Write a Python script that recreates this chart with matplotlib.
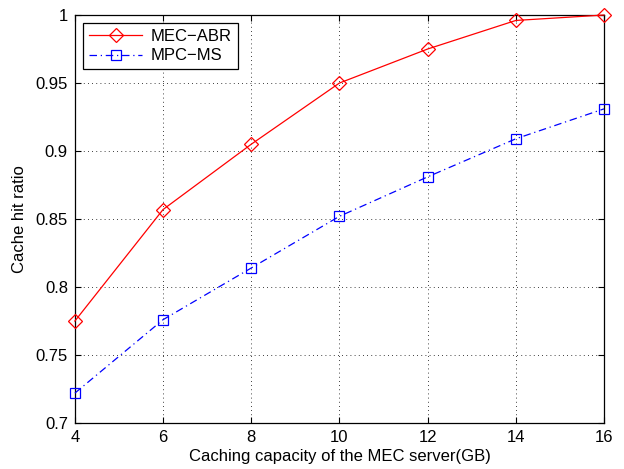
import matplotlib
matplotlib.use('Agg')
import matplotlib.pyplot as plt

# data
capacity = [4, 6, 8, 10, 12, 14, 16]
mec_abr = [0.775, 0.857, 0.905, 0.950, 0.975, 0.996, 1.000]
mpc_ms = [0.722, 0.776, 0.814, 0.852, 0.881, 0.909, 0.931]
x_ticks = [4, 6, 8, 10, 12, 14, 16]
y_ticks = [0.7, 0.75, 0.8, 0.85, 0.9, 0.95, 1.0]
y_labels = ['0.7', '0.75', '0.8', '0.85', '0.9', '0.95', '1']

plt.rcParams['font.family'] = ['Liberation Sans', 'DejaVu Sans']
plt.rcParams['font.size'] = 12

fig = plt.figure(figsize=(6.24, 4.69), dpi=100)
ax = fig.add_axes([0.120, 0.098, 0.848, 0.870])

ax.plot(capacity, mec_abr, color='#ff0000', linestyle='-', linewidth=0.9,
        marker='D', markersize=7, markerfacecolor='none', markeredgecolor='#ff0000',
        markeredgewidth=0.9, label='MEC\u2212ABR', clip_on=False, zorder=3)
ax.plot(capacity, mpc_ms, color='#0000ff', linestyle=(0, (6, 3, 1, 3)), linewidth=0.9,
        marker='s', markersize=7, markerfacecolor='none', markeredgecolor='#0000ff',
        markeredgewidth=0.9, label='MPC\u2212MS', clip_on=False, zorder=3)

ax.set_xlim(4, 16)
ax.set_ylim(0.7, 1.0)
ax.set_xticks(x_ticks)
ax.set_yticks(y_ticks)
ax.set_yticklabels(y_labels)
ax.grid(True, color='black', linestyle=(0, (1, 4)), linewidth=0.6)
ax.tick_params(direction='in', top=True, right=True, length=4, width=0.8, pad=5)
for s in ax.spines.values():
    s.set_linewidth(0.9)

ax.set_xlabel('Caching capacity of the MEC server(GB)', labelpad=3)
ax.set_ylabel('Cache hit ratio', labelpad=6)

leg = ax.legend(loc='upper left', fancybox=False, edgecolor='black', framealpha=1,
                borderaxespad=0.5, handlelength=3.2, labelspacing=0.25,
                borderpad=0.35, handletextpad=0.5)
leg.get_frame().set_linewidth(0.9)

fig.savefig('out.png', dpi=100)
